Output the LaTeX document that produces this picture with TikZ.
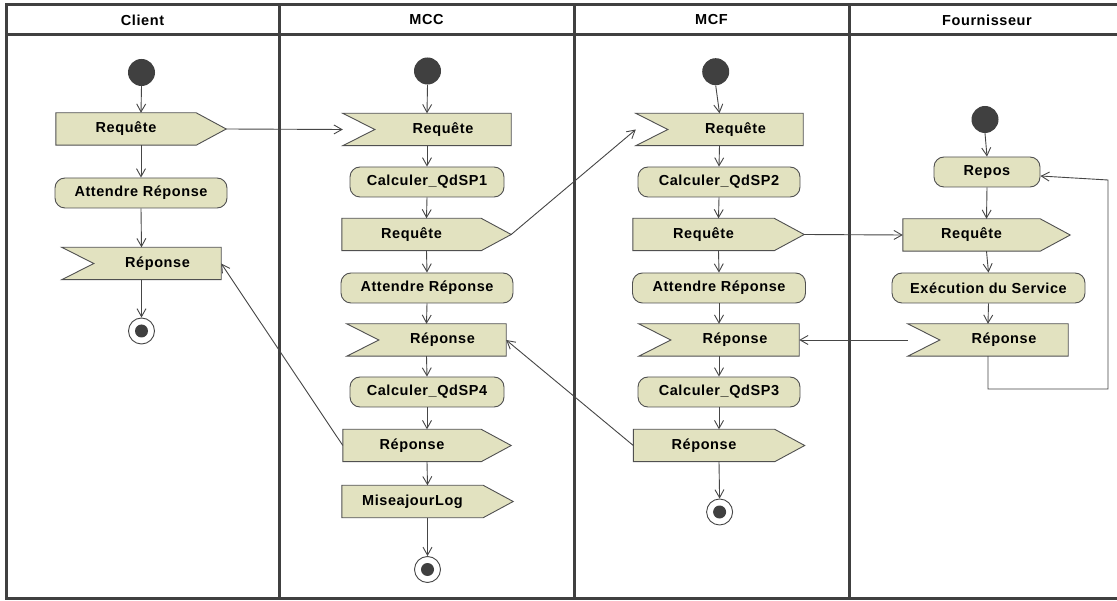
\documentclass[tikz,border=0pt]{standalone}
\usepackage{fontspec}
\setmainfont{Liberation Sans}[LetterSpace=4]
\usetikzlibrary{arrows.meta,backgrounds}
\definecolor{boxfill}{RGB}{226,226,192}
\definecolor{shapec}{RGB}{80,80,80}
\definecolor{linec}{RGB}{70,70,70}
\definecolor{startc}{RGB}{64,64,64}
\definecolor{framec}{RGB}{64,64,64}
\newcommand\sendshape[1]{\path[sigshape] (#1.north west) -- ([xshift=-30pt]#1.north east) -- (#1.east) -- ([xshift=-30pt]#1.south east) -- (#1.south west) -- cycle;}
\newcommand\recvshape[1]{\path[sigshape] (#1.north west) -- (#1.north east) -- (#1.south east) -- (#1.south west) -- ([xshift=32pt]#1.west) -- cycle;}
\newcommand\sendtxt[1]{\hspace*{-30pt}#1}
\newcommand\recvtxt[1]{\hspace*{32pt}#1}
\begin{document}
\begin{tikzpicture}[x=1pt,y=-1pt,
  every node/.style={font=\fontsize{14.5}{17}\selectfont\bfseries},
  frame/.style={draw=framec,line width=3pt},
  arr/.style={draw=linec,line width=0.9pt,-{Straight Barb[length=8pt,width=9pt]}},
  sigbox/.style={minimum width=#1,minimum height=32pt,inner sep=0pt},
  actbox/.style={draw=shapec,fill=boxfill,line width=0.9pt,rounded corners=10pt,minimum width=#1,minimum height=30pt,inner sep=0pt},
  startnode/.style={circle,fill=startc,minimum size=27pt,inner sep=0pt},
  endnode/.style={circle,draw=linec,fill=white,line width=0.9pt,minimum size=26pt,inner sep=0pt,
    path picture={\fill[startc] (path picture bounding box.center) circle (6.5pt);}},
  sigshape/.style={draw=shapec,fill=boxfill,line width=0.9pt}
]
\useasboundingbox (0,0) rectangle (1117,601);
% frame and lanes
\draw[frame] (6.5,5) rectangle (1135,598.5);
\draw[frame] (6.5,34.7) -- (1135,34.7);
\draw[frame] (279,5) -- (279,598.5);
\draw[frame] (574,5) -- (574,598.5);
\draw[frame] (849,5) -- (849,598.5);
\node (hclient) at (142.5,20) {Client};
\node (hmcc) at (426.5,20) {MCC};
\node (hmcf) at (711.5,20) {MCF};
\node (hfour) at (987,20) {Fournisseur};
% Client
\node[startnode] (c_s) at (141.5,72.5) {};
\node[sigbox=170pt] (c_req) at (141,129) {\sendtxt{Requête}};
\node[actbox=172pt] (c_att) at (141,193) {Attendre Réponse};
\node[sigbox=159pt] (c_rep) at (141.5,263.5) {\recvtxt{Réponse}};
\node[endnode] (c_e) at (141.5,331) {};
% MCC
\node[startnode] (m_s) at (427.5,71) {};
\node[sigbox=168pt] (m_req1) at (427,129.5) {\recvtxt{Requête}};
\node[actbox=154pt] (m_calc1) at (427,182) {Calculer\_QdSP1};
\node[sigbox=169pt] (m_req2) at (426.5,234.5) {\sendtxt{Requête}};
\node[actbox=172pt] (m_att) at (427,288) {Attendre Réponse};
\node[sigbox=159pt] (m_rep1) at (426.5,340) {\recvtxt{Réponse}};
\node[actbox=154pt] (m_calc4) at (427,392) {Calculer\_QdSP4};
\node[sigbox=168pt] (m_rep2) at (427,445.5) {\sendtxt{Réponse}};
\node[sigbox=171pt] (m_log) at (427.5,501.5) {\sendtxt{MiseajourLog}};
\node[endnode] (m_e) at (427.5,569.5) {};
% MCF
\node[startnode] (f_s) at (715.7,71.7) {};
\node[sigbox=167pt] (f_req1) at (719.5,129.5) {\recvtxt{Requête}};
\node[actbox=162pt] (f_calc2) at (719,182) {Calculer\_QdSP2};
\node[sigbox=171pt] (f_req2) at (718.5,234.5) {\sendtxt{Requête}};
\node[actbox=173pt] (f_att) at (719,288) {Attendre Réponse};
\node[sigbox=160pt] (f_rep1) at (719,340) {\recvtxt{Réponse}};
\node[actbox=162pt] (f_calc3) at (719,392) {Calculer\_QdSP3};
\node[sigbox=171pt] (f_rep2) at (719,445.5) {\sendtxt{Réponse}};
\node[endnode] (f_e) at (719.6,512) {};
% Fournisseur
\node[startnode] (p_s) at (985,119.5) {};
\node[actbox=106pt] (p_repos) at (987,172) {Repos};
\node[sigbox=167pt] (p_req) at (986.5,235) {\sendtxt{Requête}};
\node[actbox=193pt] (p_exec) at (988.5,288) {Exécution du Service};
\node[sigbox=160pt] (p_rep) at (988,340) {\recvtxt{Réponse}};
\coordinate (lr) at (1108,389);
\coordinate (lt) at (1108,180);
% white page and signal shapes behind their texts
\begin{scope}[on background layer]
\fill[white] (0,0) rectangle (1117,601);
\sendshape{c_req}
\recvshape{c_rep}
\recvshape{m_req1}
\sendshape{m_req2}
\recvshape{m_rep1}
\sendshape{m_rep2}
\sendshape{m_log}
\recvshape{f_req1}
\sendshape{f_req2}
\recvshape{f_rep1}
\sendshape{f_rep2}
\sendshape{p_req}
\recvshape{p_rep}
\end{scope}
% flows in lanes
\draw[arr] (c_s.south) -- (c_req.north);
\draw[arr] (c_req.south) -- (c_att.north);
\draw[arr] (c_att.south) -- (c_rep.north);
\draw[arr] (c_rep.south) -- (c_e.north);
\draw[arr] (m_s.south) -- (m_req1.north);
\draw[arr] (m_req1.south) -- (m_calc1.north);
\draw[arr] (m_calc1.south) -- (m_req2.north);
\draw[arr] (m_req2.south) -- (m_att.north);
\draw[arr] (m_att.south) -- (m_rep1.north);
\draw[arr] (m_rep1.south) -- (m_calc4.north);
\draw[arr] (m_calc4.south) -- (m_rep2.north);
\draw[arr] (m_rep2.south) -- (m_log.north);
\draw[arr] (m_log.south) -- (m_e.north);
\draw[arr] (f_s.south) -- (f_req1.north);
\draw[arr] (f_req1.south) -- (f_calc2.north);
\draw[arr] (f_calc2.south) -- (f_req2.north);
\draw[arr] (f_req2.south) -- (f_att.north);
\draw[arr] (f_att.south) -- (f_rep1.north);
\draw[arr] (f_rep1.south) -- (f_calc3.north);
\draw[arr] (f_calc3.south) -- (f_rep2.north);
\draw[arr] (f_rep2.south) -- (f_e.north);
\draw[arr] (p_s.south) -- (p_repos.north);
\draw[arr] (p_repos.south) -- (p_req.north);
\draw[arr] (p_req.south) -- (p_exec.north);
\draw[arr] (p_exec.south) -- (p_rep.north);
\draw[arr] (p_rep.south) |- (lr) -- (lt) -- ([yshift=-4pt]p_repos.east);
% messages between lanes
\draw[arr] (c_req.east) -- (m_req1.west);
\draw[arr] (m_req2.east) -- (f_req1.west);
\draw[arr] (f_req2.east) -- (p_req.west);
\draw[arr] (p_rep.west) -- (f_rep1.east);
\draw[arr] (f_rep2.west) -- (m_rep1.east);
\draw[arr] (m_rep2.west) -- (c_rep.east);
\end{tikzpicture}
\end{document}
